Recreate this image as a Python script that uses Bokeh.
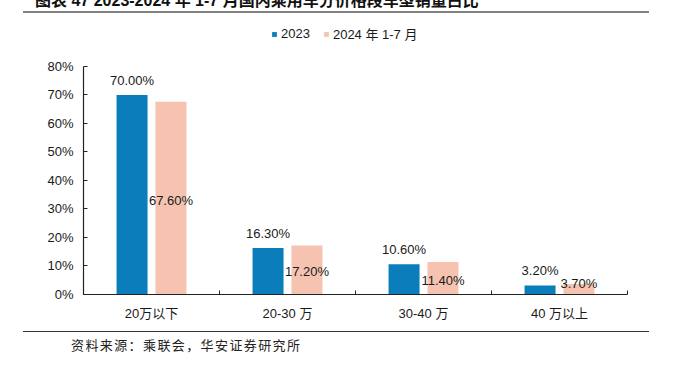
from bokeh.plotting import figure
from bokeh.models import (Range1d, FixedTicker, PrintfTickFormatter, Legend, LegendItem,
                          ColumnDataSource, Div)
from bokeh.layouts import column
from bokeh.core.properties import value
from bokeh.embed import file_html
from bokeh.resources import INLINE

# ---- data ----
title_text = "图表 47 2023-2024 年 1-7 月国内乘用车分价格段车型销量占比"
categories = ["20万以下", "20-30 万", "30-40 万", "40 万以上"]
series_names = ["2023", "2024 年 1-7 月"]
values_2023 = [70.0, 16.3, 10.6, 3.2]
values_2024 = [67.6, 17.2, 11.4, 3.7]
y_ticks = [0, 10, 20, 30, 40, 50, 60, 70, 80]
source_text = "资料来源：乘联会，华安证券研究所"

BLUE = "#0B7DBA"
PEACH = "#F5C3B0"
FONT = "Liberation Sans, Noto Sans CJK SC"
TXT = "#1a1a1a"

n = len(categories)
centers = [i + 0.5 for i in range(n)]
off = 0.143
bw = 0.228

src = ColumnDataSource(dict(
    x1=[c - off for c in centers],
    x2=[c + off for c in centers],
    v1=values_2023,
    v2=values_2024,
    l1=[f"{v:.2f}%" for v in values_2023],
    l2=[f"{v:.2f}%" for v in values_2024],
    ly2=[max(v / 2.0, 4.4) for v in values_2024],
))

# frame extends above 80% to host the legend; the axis itself is bounded to 0-80%
p = figure(width=673, height=313, output_backend="svg", toolbar_location=None,
           x_range=Range1d(0, n), y_range=Range1d(0, 94))
p.min_border_left = 83
p.min_border_right = 46
p.min_border_top = 13
p.min_border_bottom = 32
p.outline_line_color = None
p.xgrid.grid_line_color = None
p.ygrid.grid_line_color = None
p.background_fill_color = None
p.border_fill_color = None

r1 = p.vbar(x="x1", top="v1", width=bw, source=src, fill_color=BLUE, line_color=None)
r2 = p.vbar(x="x2", top="v2", width=bw, source=src, fill_color=PEACH, line_color=None)

p.text(x="x1", y="v1", text="l1", source=src, text_align="center", text_baseline="bottom",
       y_offset=-7, text_font=value(FONT), text_font_size="13px", text_color=TXT)
p.text(x="x2", y="ly2", text="l2", source=src, text_align="center", text_baseline="middle",
       y_offset=2, text_font=value(FONT), text_font_size="13px", text_color=TXT)

# axes
xa = p.xaxis[0]
xa.ticker = FixedTicker(ticks=centers, minor_ticks=list(range(n + 1)))
xa.major_label_overrides = {c: lab for c, lab in zip(centers, categories)}
xa.major_tick_in = 0
xa.major_tick_out = 0
xa.minor_tick_in = 4
xa.minor_tick_out = 0
xa.minor_tick_line_color = "#222222"
xa.axis_line_color = "#222222"
xa.axis_line_width = 1.2
xa.major_label_standoff = 11
xa.major_label_text_font = FONT
xa.major_label_text_font_size = "13px"
xa.major_label_text_color = TXT

ya = p.yaxis[0]
ya.ticker = FixedTicker(ticks=y_ticks)
ya.bounds = (y_ticks[0], y_ticks[-1])
ya.formatter = PrintfTickFormatter(format="%d%%")
ya.major_tick_in = 4
ya.major_tick_out = 0
ya.minor_tick_line_color = None
ya.major_tick_line_color = "#222222"
ya.axis_line_color = "#222222"
ya.axis_line_width = 1.2
ya.major_label_standoff = 10
ya.major_label_text_font = FONT
ya.major_label_text_font_size = "13px"
ya.major_label_text_color = TXT

legend = Legend(items=[LegendItem(label=series_names[0], renderers=[r1]),
                       LegendItem(label=series_names[1], renderers=[r2])],
                orientation="horizontal", location=(188, 251),
                glyph_width=6, glyph_height=6, label_height=14, label_standoff=4,
                spacing=13, padding=0, margin=0,
                border_line_color=None, background_fill_alpha=0,
                label_text_font=FONT, label_text_font_size="13px", label_text_color=TXT)
p.add_layout(legend, "center")

top = Div(text=('<div style="position:relative;width:673px;height:13px;">'
                '<div style="position:absolute;left:35px;top:-7px;white-space:nowrap;'
                'font-family:\'Liberation Sans\',\'Noto Sans CJK SC\';font-weight:bold;'
                'font-size:16px;line-height:16px;color:#111;">' + title_text + '</div>'
                '<div style="position:absolute;left:23px;top:11px;width:626px;height:0;'
                'border-top:2px solid #808080;"></div></div>'),
          width=673, height=13, styles={"margin": "0"})
bottom = Div(text=('<div style="margin-left:23px;width:626px;height:0;margin-top:5px;'
                   'border-top:1.5px solid #333;"></div>'
                   '<div style="margin-left:71px;margin-top:5px;font-family:\'Noto Sans CJK SC\';'
                   'font-size:13px;letter-spacing:1.4px;color:#222;line-height:16px;">'
                   + source_text + '</div>'),
             width=673, height=39, styles={"margin": "0"})

layout = column(top, p, bottom, spacing=0)

open("out.html", "w").write(file_html(layout, INLINE))
